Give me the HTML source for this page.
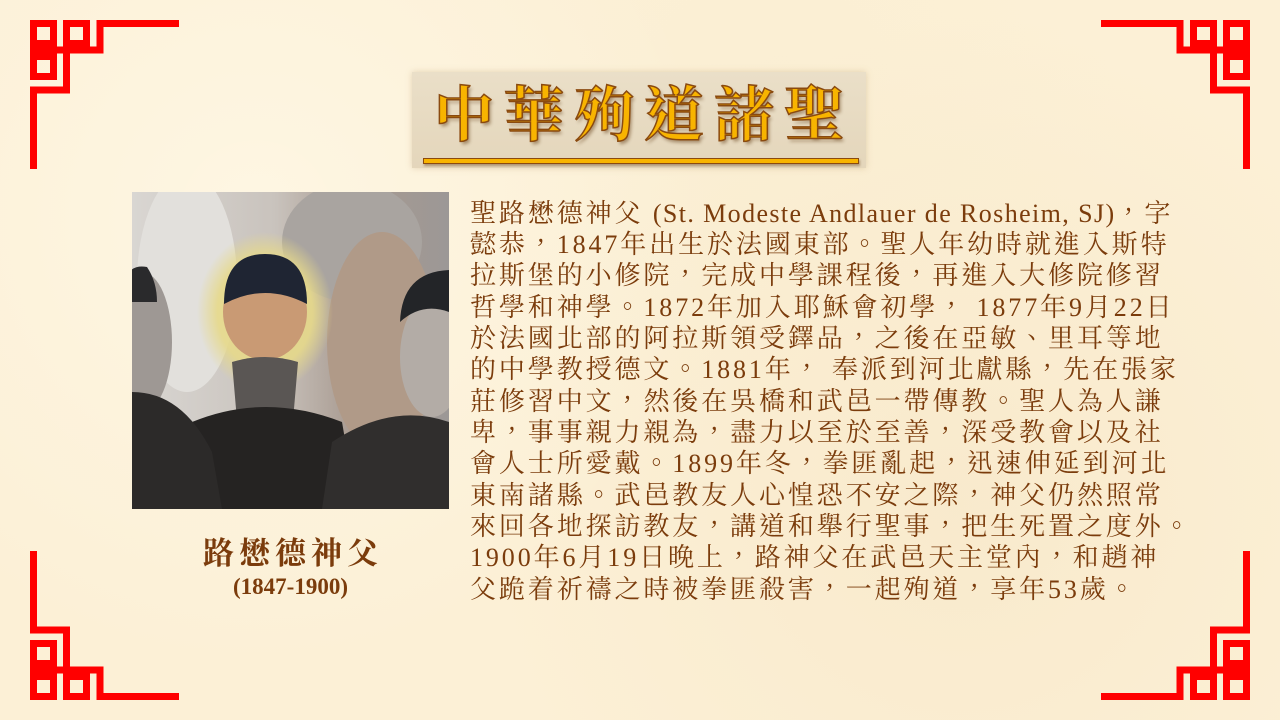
<!DOCTYPE html>
<html><head><meta charset="utf-8">
<style>
html,body{margin:0;padding:0}
body{width:1280px;height:720px;position:relative;overflow:hidden;background:#fcf0d6;
background-image:radial-gradient(circle at 20% 30%,rgba(255,250,235,.6),transparent 40%),radial-gradient(circle at 75% 70%,rgba(245,228,195,.5),transparent 45%),radial-gradient(circle at 60% 15%,rgba(250,238,210,.6),transparent 35%);}
.abs{position:absolute}
#title-box{left:412px;top:72px;width:454px;height:96px;background:linear-gradient(180deg,#eadfc8,#e4d6bb);box-shadow:0 0 6px rgba(180,150,100,.35)}
#title-text{left:0;top:4px;width:454px;text-align:center;font-family:"Liberation Serif","Noto Serif CJK TC","Noto Sans CJK TC",serif;font-weight:bold;font-size:60px;line-height:80px;letter-spacing:10px;color:#f8b400;-webkit-text-stroke:1.5px #8a4a10;text-shadow:2px 3px 3px rgba(90,50,10,.45);padding-left:10px;box-sizing:border-box}
#title-underline{left:11px;top:86px;width:434px;height:4px;background:#f8b400;border:1px solid #8a4a10;box-shadow:1px 2px 2px rgba(90,50,10,.4)}
.line{position:absolute;left:470px;white-space:nowrap;font-family:"Liberation Serif","Noto Serif CJK TC","Noto Serif CJK SC",serif;font-size:26px;letter-spacing:2.9px;color:#7b3c0c;line-height:31px}
.lat{letter-spacing:1.4px}
#caption-name{left:132px;width:317px;top:528px;text-align:center;font-family:"Liberation Serif","Noto Serif CJK TC","Noto Serif CJK SC",serif;font-weight:bold;font-size:31px;letter-spacing:5px;padding-left:5px;box-sizing:border-box;color:#7b3c0c}
#caption-years{left:132px;width:317px;top:574px;text-align:center;font-family:"Liberation Serif",serif;font-weight:bold;font-size:23px;color:#7b3c0c}
</style></head><body>
<svg class="abs" style="left:0;top:0" width="1280" height="720">
<defs>
<g id="orn" fill="none" stroke="#ff0000" stroke-width="7">
<rect x="33.5" y="23.5" width="20" height="20"/>
<rect x="66.5" y="23.5" width="20" height="20"/>
<rect x="33.5" y="56.5" width="20" height="20"/>
<path d="M179 23.5 H100 V50 H30"/>
<path d="M66.5 20 V90 H33.5 V169"/>
</g>
</defs>
<g><use href="#orn"/></g>
<g transform="translate(1280,0) scale(-1,1)"><use href="#orn"/></g>
<g transform="translate(0,720) scale(1,-1)"><use href="#orn"/></g>
<g transform="translate(1280,720) scale(-1,-1)"><use href="#orn"/></g>
</svg>

<div id="title-box" class="abs">
<div id="title-text" class="abs">中華殉道諸聖</div>
<div id="title-underline" class="abs"></div>
</div>

<svg class="abs" style="left:132px;top:192px" width="317" height="317">
<defs>
<radialGradient id="halo" cx="0.5" cy="0.5" r="0.5"><stop offset="0.7" stop-color="#e6d98a" stop-opacity="0.9"/><stop offset="1" stop-color="#e6d98a" stop-opacity="0"/></radialGradient>
<linearGradient id="bg" x1="0" y1="0" x2="1" y2="0"><stop offset="0" stop-color="#d9d6d2"/><stop offset="0.45" stop-color="#c9c3bd"/><stop offset="0.7" stop-color="#a89a90"/><stop offset="1" stop-color="#9c9896"/></linearGradient>
</defs>
<rect width="317" height="317" fill="url(#bg)"/>
<ellipse cx="55" cy="90" rx="50" ry="110" fill="#e2e0dc"/>
<ellipse cx="220" cy="50" rx="70" ry="60" fill="#a9a4a0"/>
<ellipse cx="250" cy="150" rx="55" ry="110" fill="#b09a88"/>
<ellipse cx="133" cy="120" rx="68" ry="80" fill="url(#halo)"/>
<ellipse cx="133" cy="120" rx="42" ry="48" fill="#c99a74"/>
<path d="M92 112 Q92 62 133 62 Q175 62 175 112 Q133 90 92 112Z" fill="#1f2533"/>
<path d="M100 170 Q133 160 166 170 L160 240 Q133 255 106 240Z" fill="#5a5654"/>
<path d="M50 317 L60 230 Q133 200 210 230 L225 317Z" fill="#252322"/>
<ellipse cx="10" cy="150" rx="30" ry="70" fill="#9e9894"/>
<path d="M-10 110 Q-10 70 15 75 Q25 90 25 110Z" fill="#2a2a2c"/>
<path d="M0 317 L0 200 Q50 200 80 260 L90 317Z" fill="#2c2a29"/>
<ellipse cx="300" cy="165" rx="32" ry="60" fill="#b3aca6"/>
<path d="M268 130 Q270 80 317 78 L317 120 Q290 110 268 130Z" fill="#232528"/>
<path d="M190 317 L200 250 Q260 210 317 230 L317 317Z" fill="#302e2d"/>
</svg>

<div id="caption-name" class="abs">路懋德神父</div>
<div id="caption-years" class="abs">(1847-1900)</div>

<div class="abs" style="left:0;top:0">
<div class="line" style="top:198px">聖路懋德神父 <span class="lat">(St. Modeste Andlauer de Rosheim, SJ)</span>，字</div>
<div class="line" style="top:229px">懿恭，1847年出生於法國東部。聖人年幼時就進入斯特</div>
<div class="line" style="top:260px">拉斯堡的小修院，完成中學課程後，再進入大修院修習</div>
<div class="line" style="top:292px">哲學和神學。1872年加入耶穌會初學， 1877年9月22日</div>
<div class="line" style="top:323px">於法國北部的阿拉斯領受鐸品，之後在亞敏、里耳等地</div>
<div class="line" style="top:354px">的中學教授德文。1881年， 奉派到河北獻縣，先在張家</div>
<div class="line" style="top:386px">莊修習中文，然後在吳橋和武邑一帶傳教。聖人為人謙</div>
<div class="line" style="top:417px">卑，事事親力親為，盡力以至於至善，深受教會以及社</div>
<div class="line" style="top:448px">會人士所愛戴。1899年冬，拳匪亂起，迅速伸延到河北</div>
<div class="line" style="top:480px">東南諸縣。武邑教友人心惶恐不安之際，神父仍然照常</div>
<div class="line" style="top:511px">來回各地探訪教友，講道和舉行聖事，把生死置之度外。</div>
<div class="line" style="top:542px">1900年6月19日晚上，路神父在武邑天主堂內，和趙神</div>
<div class="line" style="top:574px">父跪着祈禱之時被拳匪殺害，一起殉道，享年53歲。</div>
</div>
</body></html>
